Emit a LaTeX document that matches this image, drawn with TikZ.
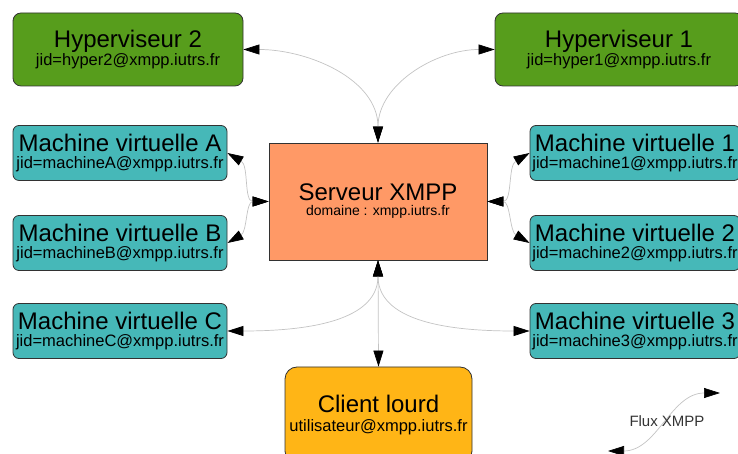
\documentclass[tikz,border=0pt]{standalone}
\usepackage{fontspec}
\setmainfont{Liberation Sans}
\usetikzlibrary{arrows.meta}

\definecolor{hypgreen}{RGB}{87,157,28}
\definecolor{vmteal}{RGB}{70,184,184}
\definecolor{srvorange}{RGB}{255,153,102}
\definecolor{cliyellow}{RGB}{255,181,22}
\definecolor{fluxgray}{RGB}{195,195,195}
\definecolor{boxline}{RGB}{50,50,50}

\newcommand{\titre}[1]{{\fontsize{24}{24}\selectfont #1}}

\begin{document}
\begin{tikzpicture}[x=1pt,y=1pt,<->,>={Triangle[length=16pt,width=10pt,color=black]},
        flux/.style={draw=fluxgray,line width=0.7pt},
        box/.style={draw=boxline,line width=0.8pt,align=center,inner sep=0pt},
        hyper/.style={box,fill=hypgreen,rounded corners=8pt,minimum height=73pt,
          font=\fontsize{16.5}{18.5}\selectfont},
        vm/.style={box,fill=vmteal,rounded corners=6pt,minimum width=214pt,minimum height=55pt,
          font=\fontsize{16.5}{16.5}\selectfont},
        serveur/.style={box,fill=srvorange,minimum width=218pt,minimum height=117pt,
          font=\fontsize{14}{15}\selectfont},
        client/.style={box,fill=cliyellow,rounded corners=12pt,minimum width=187pt,minimum height=96pt,
          font=\fontsize{16.5}{19}\selectfont}]

  \useasboundingbox (0,0) rectangle (738,454);

  \node[hyper,minimum width=230pt] (hyp2) at (128,404.5) {\titre{Hyperviseur 2}\\ jid=hyper2@xmpp.iutrs.fr};
  \node[hyper,minimum width=248pt] (hyp1) at (619,404.5) {\titre{Hyperviseur 1}\\ jid=hyper1@xmpp.iutrs.fr};

  \node[vm] (vmA) at (120,301) {\titre{Machine virtuelle A}\\ jid=machineA@xmpp.iutrs.fr};
  \node[vm] (vmB) at (120,211) {\titre{Machine virtuelle B}\\ jid=machineB@xmpp.iutrs.fr};
  \node[vm] (vmC) at (120,123) {\titre{Machine virtuelle C}\\ jid=machineC@xmpp.iutrs.fr};
  \node[vm,minimum width=210pt] (vm1) at (635,301) {\titre{Machine virtuelle 1}\\ jid=machine1@xmpp.iutrs.fr};
  \node[vm,minimum width=210pt] (vm2) at (635,211) {\titre{Machine virtuelle 2}\\ jid=machine2@xmpp.iutrs.fr};
  \node[vm,minimum width=210pt] (vm3) at (635,123) {\titre{Machine virtuelle 3}\\ jid=machine3@xmpp.iutrs.fr};

  \node[serveur] (srv) at (378,252.5) {\titre{Serveur XMPP}\\ domaine : xmpp.iutrs.fr};
  \node[client] (cli) at (378.5,39) {\titre{Client lourd}\\ utilisateur@xmpp.iutrs.fr};

  \path (srv.north) edge [flux,out=90,in=0]    (hyp2.east)
        (srv.north) edge [flux,out=90,in=180]  (hyp1.west)
        (srv.west)  edge [flux,out=180,in=-30] (vmA.east)
        (srv.west)  edge [flux,out=180,in=30]  (vmB.east)
        (srv.east)  edge [flux,out=0,in=210]   (vm1.west)
        (srv.east)  edge [flux,out=0,in=150]   (vm2.west)
        (srv.south) edge [flux,out=-90,in=0]   (vmC.east)
        (srv.south) edge [flux,out=-90,in=180] (vm3.west)
        (srv.south) edge [flux]                (cli.north);

  % legende
  \coordinate (legA) at (608,3);
  \coordinate (legB) at (720,61);
  \draw[flux] (legA) to[out=0,in=180] (legB);
  \node[font=\fontsize{15}{15}\selectfont,text=black!80] (leg) at (667,33) {Flux XMPP};

\end{tikzpicture}
\end{document}
